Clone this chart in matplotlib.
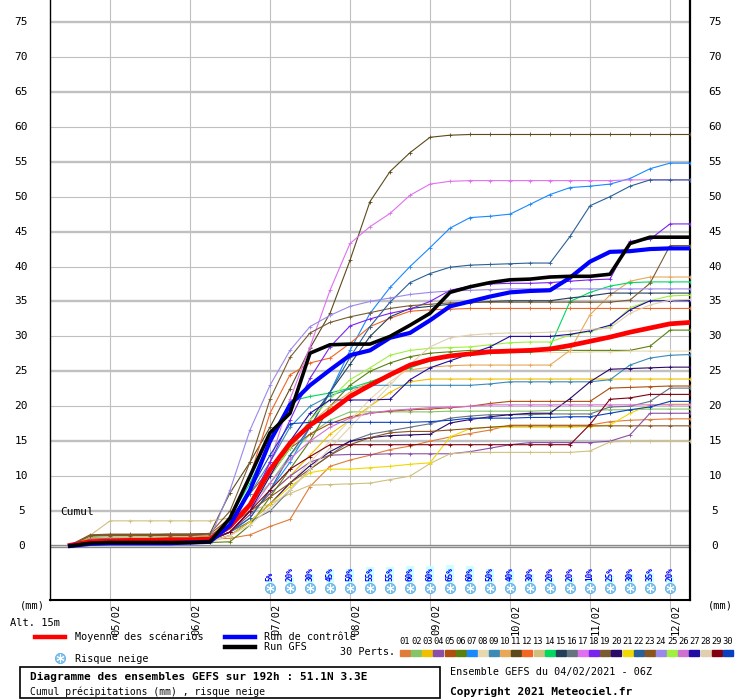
import numpy as np
import pandas as pd
import matplotlib
matplotlib.use('Agg')
from matplotlib import pyplot as plt
from matplotlib import transforms
from matplotlib import dates as mdates
from matplotlib.lines import Line2D
from matplotlib.patches import Rectangle

plt.rcParams['font.family'] = 'DejaVu Sans Mono'

# 6-hourly steps of the 04/02/2021 06Z run
times = pd.date_range('2021-02-04 12:00', periods=32, freq='6h')
day_ticks = pd.date_range('2021-02-05', '2021-02-12', freq='D')
day_labels = [d.strftime('%d/%m') for d in day_ticks]

# ensemble members 01..30 (cumulated precipitation, mm)
perts = [
    [0.1,0.8,0.9,0.9,0.9,0.9,1.0,1.0, 1.1,1.6,2.8,3.8,8.5,11.4,12.3,13.0,
     13.8,14.3,15.0,15.6,16.1,16.6,17.3,17.3, 17.3,17.3,17.3,17.8,18.0,18.1,18.2,18.2],
    [0.1,1.2,1.3,1.3,1.3,1.3,1.3,1.4, 3.5,6.0,9.0,13.0,16.0,18.0,19.2,19.2,
     19.2,19.2,19.2,19.3,19.3,19.3,19.3,19.3, 19.4,19.4,19.4,19.5,19.5,19.6,19.6,19.6],
    [0.1,0.7,0.8,0.8,0.8,0.8,0.8,0.9, 2.0,4.5,7.5,10.0,13.0,16.0,18.0,20.0,
     22.0,23.5,23.9,23.9,23.9,23.9,23.9,23.9, 23.9,23.9,23.9,23.9,23.9,23.9,23.9,23.9],
    [0.1,0.6,0.7,0.7,0.7,0.7,0.7,0.8, 2.0,4.5,7.5,10.0,12.0,13.0,13.1,13.1,
     13.2,13.2,13.2,13.2,13.5,14.0,14.5,14.8, 14.8,14.8,14.8,15.0,15.9,19.0,19.0,19.0],
    [0.1,1.5,1.6,1.6,1.6,1.6,1.6,1.7, 4.0,7.5,11.0,14.0,16.0,17.5,18.5,19.0,
     19.3,19.5,19.6,19.8,20.0,20.4,20.7,20.7, 20.7,20.7,20.7,22.6,22.7,22.8,22.9,22.9],
    [0.1,0.4,0.5,0.5,0.5,0.5,0.5,0.5, 0.6,3.0,7.0,11.0,15.0,20.0,23.0,25.0,
     26.2,27.1,27.6,27.8,28.0,28.0,28.0,28.0, 28.0,28.0,28.0,28.0,28.0,28.6,30.9,30.9],
    [0.1,0.6,0.7,0.7,0.7,0.7,0.7,0.8, 2.0,4.0,8.0,12.0,17.0,22.0,28.0,33.3,
     37.0,40.0,42.7,45.5,47.0,47.2,47.5,48.9, 50.3,51.3,51.5,51.8,52.6,54.0,54.8,54.8],
    [0.1,0.3,0.4,0.4,0.4,0.4,0.4,0.5, 1.5,3.5,6.0,9.0,12.0,15.0,18.0,21.0,
     23.5,25.5,26.8,27.3,27.5,27.6,27.7,27.7, 27.7,27.7,27.8,27.8,27.9,27.9,27.9,27.9],
    [0.1,0.9,1.0,1.0,1.0,1.0,1.0,1.1, 3.5,7.5,12.0,17.0,20.0,21.5,22.5,23.0,
     23.0,23.0,23.0,23.0,23.0,23.2,23.5,23.5, 23.5,23.5,23.5,23.8,25.9,26.9,27.3,27.4],
    [0.1,1.0,1.1,1.1,1.1,1.1,1.1,1.2, 3.0,6.0,10.0,14.0,17.5,20.0,22.0,23.5,
     24.5,25.2,25.6,25.8,25.9,25.9,25.9,25.9, 25.9,28.0,33.1,35.9,37.9,38.5,38.5,38.5],
    [0.1,1.5,1.6,1.6,1.6,1.7,1.7,1.8, 7.6,12.0,17.0,22.5,28.3,33.3,40.9,49.3,
     53.6,56.3,58.5,58.8,58.9,58.9,58.9,58.9, 58.9,58.9,58.9,58.9,58.9,58.9,58.9,58.9],
    [0.1,1.0,1.1,1.1,1.1,1.1,1.1,1.2, 4.0,10.0,19.0,24.5,26.2,26.9,29.0,31.4,
     32.6,33.6,33.8,33.9,34.0,34.0,34.0,34.0, 34.0,34.0,34.0,34.0,34.0,34.0,34.0,34.0],
    [0.1,1.5,3.6,3.6,3.6,3.6,3.6,3.6, 4.0,5.0,6.0,7.5,8.7,8.8,8.9,9.0,
     9.5,10.0,11.8,13.2,13.4,13.4,13.4,13.4, 13.4,13.4,13.6,14.9,15.0,15.0,15.0,15.0],
    [0.1,0.8,0.9,0.9,0.9,0.9,0.9,1.0, 4.0,9.0,15.0,20.7,21.4,21.9,22.6,23.5,
     24.5,25.5,26.5,27.2,27.5,27.6,27.7,27.7, 28.5,35.0,36.3,37.2,37.7,37.8,37.8,37.8],
    [0.1,0.9,1.0,1.0,1.0,1.0,1.0,1.1, 3.0,6.0,10.0,14.0,18.0,22.0,26.0,30.0,
     32.8,34.0,34.3,34.6,34.8,35.0,35.1,35.1, 35.1,35.5,35.8,36.2,36.2,36.2,36.2,36.2],
    [0.1,0.7,0.8,0.8,0.8,0.8,0.8,0.9, 2.0,3.5,5.0,8.0,11.0,13.0,15.0,16.0,
     16.5,17.0,17.5,18.3,18.6,18.8,18.8,18.8, 18.9,18.9,18.9,19.9,20.0,20.7,22.6,22.6],
    [0.1,0.7,0.8,0.8,0.8,0.8,0.8,0.9, 2.0,5.0,12.0,21.0,28.5,36.6,43.3,45.7,
     47.6,50.2,51.8,52.2,52.3,52.3,52.3,52.3, 52.3,52.3,52.3,52.3,52.4,52.4,52.4,52.4],
    [0.1,0.6,0.7,0.7,0.7,0.7,0.7,0.8, 2.5,6.0,12.0,18.0,24.0,28.5,31.5,32.5,
     33.3,33.9,35.0,36.6,37.2,37.5,37.6,37.6, 37.7,37.9,38.1,38.2,43.6,43.9,46.1,46.1],
    [0.1,1.6,1.7,1.7,1.7,1.7,1.7,1.8, 5.0,12.0,21.0,27.0,30.5,32.0,32.8,33.4,
     34.0,34.4,34.6,34.8,34.9,34.9,34.9,34.9, 34.9,34.9,34.9,34.9,35.2,37.6,43.0,43.0],
    [0.1,0.5,0.6,0.6,0.6,0.6,0.6,0.7, 1.5,3.5,6.0,9.0,11.5,13.5,15.0,15.5,
     15.8,15.9,16.0,17.6,18.1,18.5,18.8,19.0, 19.0,21.1,23.5,25.3,25.4,25.5,25.6,25.6],
    [0.1,0.5,0.6,0.6,0.6,0.6,0.6,0.7, 1.5,3.5,6.0,8.5,10.5,11.0,11.0,11.2,
     11.4,11.7,11.9,15.6,16.8,17.0,17.0,17.0, 17.0,17.0,17.1,17.3,19.0,20.2,20.3,20.3],
    [0.1,0.8,0.9,0.9,0.9,0.9,0.9,1.0, 2.0,4.0,8.0,13.0,17.0,22.0,27.0,31.4,
     34.9,37.7,39.0,39.9,40.2,40.3,40.4,40.5, 40.5,44.3,48.7,50.0,51.5,52.4,52.4,52.4],
    [0.1,1.4,1.5,1.5,1.5,1.5,1.5,1.6, 3.0,5.0,7.0,9.0,11.0,13.0,14.5,15.5,
     16.2,16.4,16.4,16.6,16.8,17.0,17.2,17.2, 17.2,17.2,17.2,17.2,17.2,17.2,17.2,17.2],
    [0.1,0.9,1.0,1.0,1.0,1.0,1.0,1.1, 8.0,16.6,23.0,28.0,31.4,33.0,34.3,35.0,
     35.5,36.0,36.3,36.5,36.6,36.7,36.8,36.8, 36.8,36.8,36.8,36.8,36.8,36.8,36.8,36.8],
    [0.1,0.7,0.8,0.8,0.8,0.8,0.8,0.9, 2.5,6.0,10.0,14.0,18.0,21.0,23.8,25.5,
     27.3,28.0,28.3,28.4,28.5,28.8,29.1,29.2, 29.2,30.2,30.7,31.4,34.1,35.1,35.8,35.9],
    [0.1,0.5,0.6,0.6,0.6,0.6,0.6,0.7, 2.0,5.0,9.0,12.5,15.0,17.0,18.3,19.0,
     19.4,19.6,19.8,19.9,20.0,20.2,20.2,20.2, 20.2,20.2,20.2,20.2,20.2,20.2,20.2,20.2],
    [0.1,0.6,0.7,0.7,0.7,0.7,0.7,0.8, 2.0,5.0,10.0,15.0,19.0,20.9,20.9,20.9,
     21.0,23.8,25.5,26.5,27.5,28.5,30.0,30.0, 30.0,30.3,30.8,31.6,33.8,35.1,35.1,35.1],
    [0.1,0.4,0.5,0.5,0.5,0.5,0.5,0.6, 1.5,3.0,5.5,8.0,11.0,14.0,17.0,20.0,
     23.0,26.0,28.5,29.8,30.2,30.4,30.5,30.5, 30.6,30.8,31.0,31.2,33.3,34.5,35.2,35.3],
    [0.1,0.6,0.7,0.7,0.7,0.7,0.7,0.8, 2.0,5.0,8.0,11.0,12.8,14.5,14.5,14.5,
     14.5,14.5,14.5,14.5,14.5,14.5,14.5,14.5, 14.5,14.5,17.4,21.0,21.2,21.7,21.7,21.7],
    [0.1,0.4,0.5,0.5,0.5,0.5,0.5,0.6, 3.0,8.0,13.0,17.5,17.7,17.7,17.7,17.7,
     17.7,17.7,17.8,18.0,18.3,18.3,18.3,18.4, 18.4,18.5,18.5,19.0,19.5,19.9,20.7,20.7],
]
pert_colors = ['#e07b39', '#86c46a', '#f0c000', '#8b4fa8', '#b04e0f', '#5a8010',
               '#1a88ff', '#e8d8b0', '#3a8ab8', '#e8a858', '#5c4a1c', '#f26522',
               '#d0c080', '#00d860', '#243f58', '#667480', '#e070f0', '#7a22f0',
               '#7a5a30', '#2a0a68', '#f0d800', '#2a6098', '#8a5420', '#9a88ea',
               '#a0f040', '#d070d0', '#200ca0', '#e0d0b0', '#800010', '#0a40c0']

mean = [0.1,0.6,0.7,0.8,0.8,0.9,0.9,1.0, 2.8,5.9,10.9,14.7,17.3,19.2,21.4,23.0,
        24.5,25.9,26.7,27.2,27.5,27.8,27.9,28.0, 28.2,28.7,29.3,29.9,30.6,31.2,31.8,32.0]
control = [0.0,0.3,0.4,0.4,0.4,0.4,0.5,0.6, 3.0,8.0,15.0,20.2,23.0,25.2,27.3,28.0,
           29.8,30.5,32.3,34.3,35.0,35.7,36.3,36.5, 36.6,38.4,40.7,42.1,42.2,42.5,42.6,42.6]
gfs = [0.0,0.4,0.5,0.5,0.5,0.5,0.5,0.6, 4.0,10.0,16.2,19.0,27.6,28.8,28.9,28.9,
       30.0,31.6,33.3,36.3,37.1,37.7,38.1,38.2, 38.5,38.6,38.6,38.9,43.3,44.2,44.2,44.2]

# snow risk (%) from 07/02 00Z to 12/02 00Z
snow_pct = [5, 20, 30, 45, 50, 55, 55, 60, 60, 65, 60, 50, 40, 30, 20, 20, 10, 25, 30, 35, 20]

t = mdates.date2num(times.to_pydatetime())
t_days = mdates.date2num(day_ticks.to_pydatetime())
snow_t = t[10:31]

W, H = 740, 700
def fx(x):
    return x / W
def fy(y):
    return 1 - y / H

fig = plt.figure(figsize=(7.4, 7.0), dpi=100)
ax = fig.add_axes([50 / W, 100 / H, 640 / W, 600 / H])

# grid
for d in t_days:
    ax.axvline(d, color='#c0c0c0', lw=0.8, zorder=1)
for v in range(5, 80, 5):
    ax.axhline(v, color='#c0c0c0', lw=1.7 if v % 10 == 5 else 0.8, zorder=1)
ax.axhline(0, color='#8a8a8a', lw=2.4, zorder=1)
ax.axhline(0, color='#d8d8d8', lw=0.6, zorder=1)

# snow risk
ax.bar(snow_t, [p * 0.04 for p in snow_pct], bottom=-5.25, width=0.11,
       color='#ccffff', zorder=2)
for x, p in zip(snow_t, snow_pct):
    ax.text(x, -5.05, f'{p}%', rotation=90, ha='center', va='bottom', fontsize=5.5,
            color='#0000ff', fontweight='bold', zorder=4)
ax.scatter(snow_t, [-6.0] * len(snow_t), s=55, color='#7cc4ee', edgecolors='#5aa8e0',
           linewidths=0.5, zorder=4)
ax.scatter(snow_t, [-6.0] * len(snow_t), s=28, marker=(6, 2, 0), color='white',
           linewidths=0.7, zorder=5)

# members and runs
for vals, col in zip(perts, pert_colors):
    ax.plot(t, vals, color=col, lw=0.8, marker='+', ms=3, mew=0.6, zorder=3)
ax.plot(t, mean, color='#ff0000', lw=3.4, zorder=5)
ax.plot(t, control, color='#0000ff', lw=3.0, zorder=6)
ax.plot(t, gfs, color='#000000', lw=2.6, zorder=7)

ax.set_xlim(t[0] - 0.25, t[-1])
ax.set_ylim(-7.73, 78.15)
ax.set_xticks(t_days)
ax.set_yticks([])
ax.tick_params(axis='x', length=7, width=0.75, color='#c0c0c0', labelbottom=False)
ax.spines['top'].set_visible(False)
ax.spines['left'].set_linewidth(1.0)
ax.spines['right'].set_linewidth(1.6)
ax.spines['bottom'].set_linewidth(1.5)

ylab = transforms.blended_transform_factory(ax.transAxes, ax.transData)
for v in range(0, 80, 5):
    ax.text(-0.045, v, str(v), transform=ylab, ha='center', va='center', fontsize=8)
    ax.text(1.039, v, str(v), transform=ylab, ha='center', va='center', fontsize=8)

xlab = transforms.offset_copy(
    transforms.blended_transform_factory(ax.transData, ax.transAxes),
    fig=fig, x=6, y=0, units='dots')
for d, lab in zip(t_days, day_labels):
    ax.text(d, -0.006, lab, transform=xlab, rotation=90, ha='center', va='top',
            fontsize=7.5)

fig.text(fx(60), fy(512), 'Cumul', ha='left', va='center', fontsize=8)
fig.text(fx(32), fy(606), '(mm)', ha='center', va='center', fontsize=7.5)
fig.text(fx(720), fy(606), '(mm)', ha='center', va='center', fontsize=7.5)
fig.text(fx(10), fy(623), 'Alt. 15m', ha='left', va='center', fontsize=7.5)

# legend
fig.add_artist(Line2D([fx(35), fx(65)], [fy(637)] * 2, color='#ff0000', lw=3.2))
fig.text(fx(75), fy(637), 'Moyenne des scénarios', ha='left', va='center', fontsize=7.3)
fig.add_artist(Line2D([fx(225), fx(255)], [fy(637)] * 2, color='#0000ff', lw=3.2))
fig.text(fx(264), fy(637), 'Run de contrôle', ha='left', va='center', fontsize=7.3)
fig.add_artist(Line2D([fx(225), fx(255)], [fy(647)] * 2, color='#000000', lw=3.2))
fig.text(fx(264), fy(647), 'Run GFS', ha='left', va='center', fontsize=7.3)
ax.scatter([fx(60)], [fy(658)], transform=fig.transFigure, clip_on=False, s=55,
           color='#7cc4ee', edgecolors='#5aa8e0', linewidths=0.5, zorder=4)
ax.scatter([fx(60)], [fy(658)], transform=fig.transFigure, clip_on=False, s=28,
           marker=(6, 2, 0), color='white', linewidths=0.7, zorder=5)
fig.text(fx(75), fy(659), 'Risque neige', ha='left', va='center', fontsize=7.3)
fig.text(fx(340), fy(652), '30 Perts.', ha='left', va='center', fontsize=7.3)
for k, col in enumerate(pert_colors):
    x0 = 400 + k * 11.13
    fig.add_artist(Rectangle((fx(x0), fy(656)), 10 / W, 6 / H,
                             transform=fig.transFigure, color=col))
    fig.text(fx(x0 + 5), fy(641), f'{k + 1:02d}', ha='center', va='center',
             fontsize=6.3)

# bottom captions
fig.add_artist(Rectangle((fx(20), fy(698)), 420 / W, 31 / H, transform=fig.transFigure,
                         fill=False, ec='black', lw=1.2))
fig.text(fx(30), fy(677), 'Diagramme des ensembles GEFS sur 192h : 51.1N 3.3E',
         ha='left', va='center', fontsize=8, fontweight='bold')
fig.text(fx(30), fy(692), 'Cumul précipitations (mm) , risque neige',
         ha='left', va='center', fontsize=7)
fig.text(fx(450), fy(672), 'Ensemble GEFS du 04/02/2021 - 06Z',
         ha='left', va='center', fontsize=7.3)
fig.text(fx(450), fy(692), 'Copyright 2021 Meteociel.fr',
         ha='left', va='center', fontsize=8, fontweight='bold')

fig.savefig('out.png', dpi=100)
